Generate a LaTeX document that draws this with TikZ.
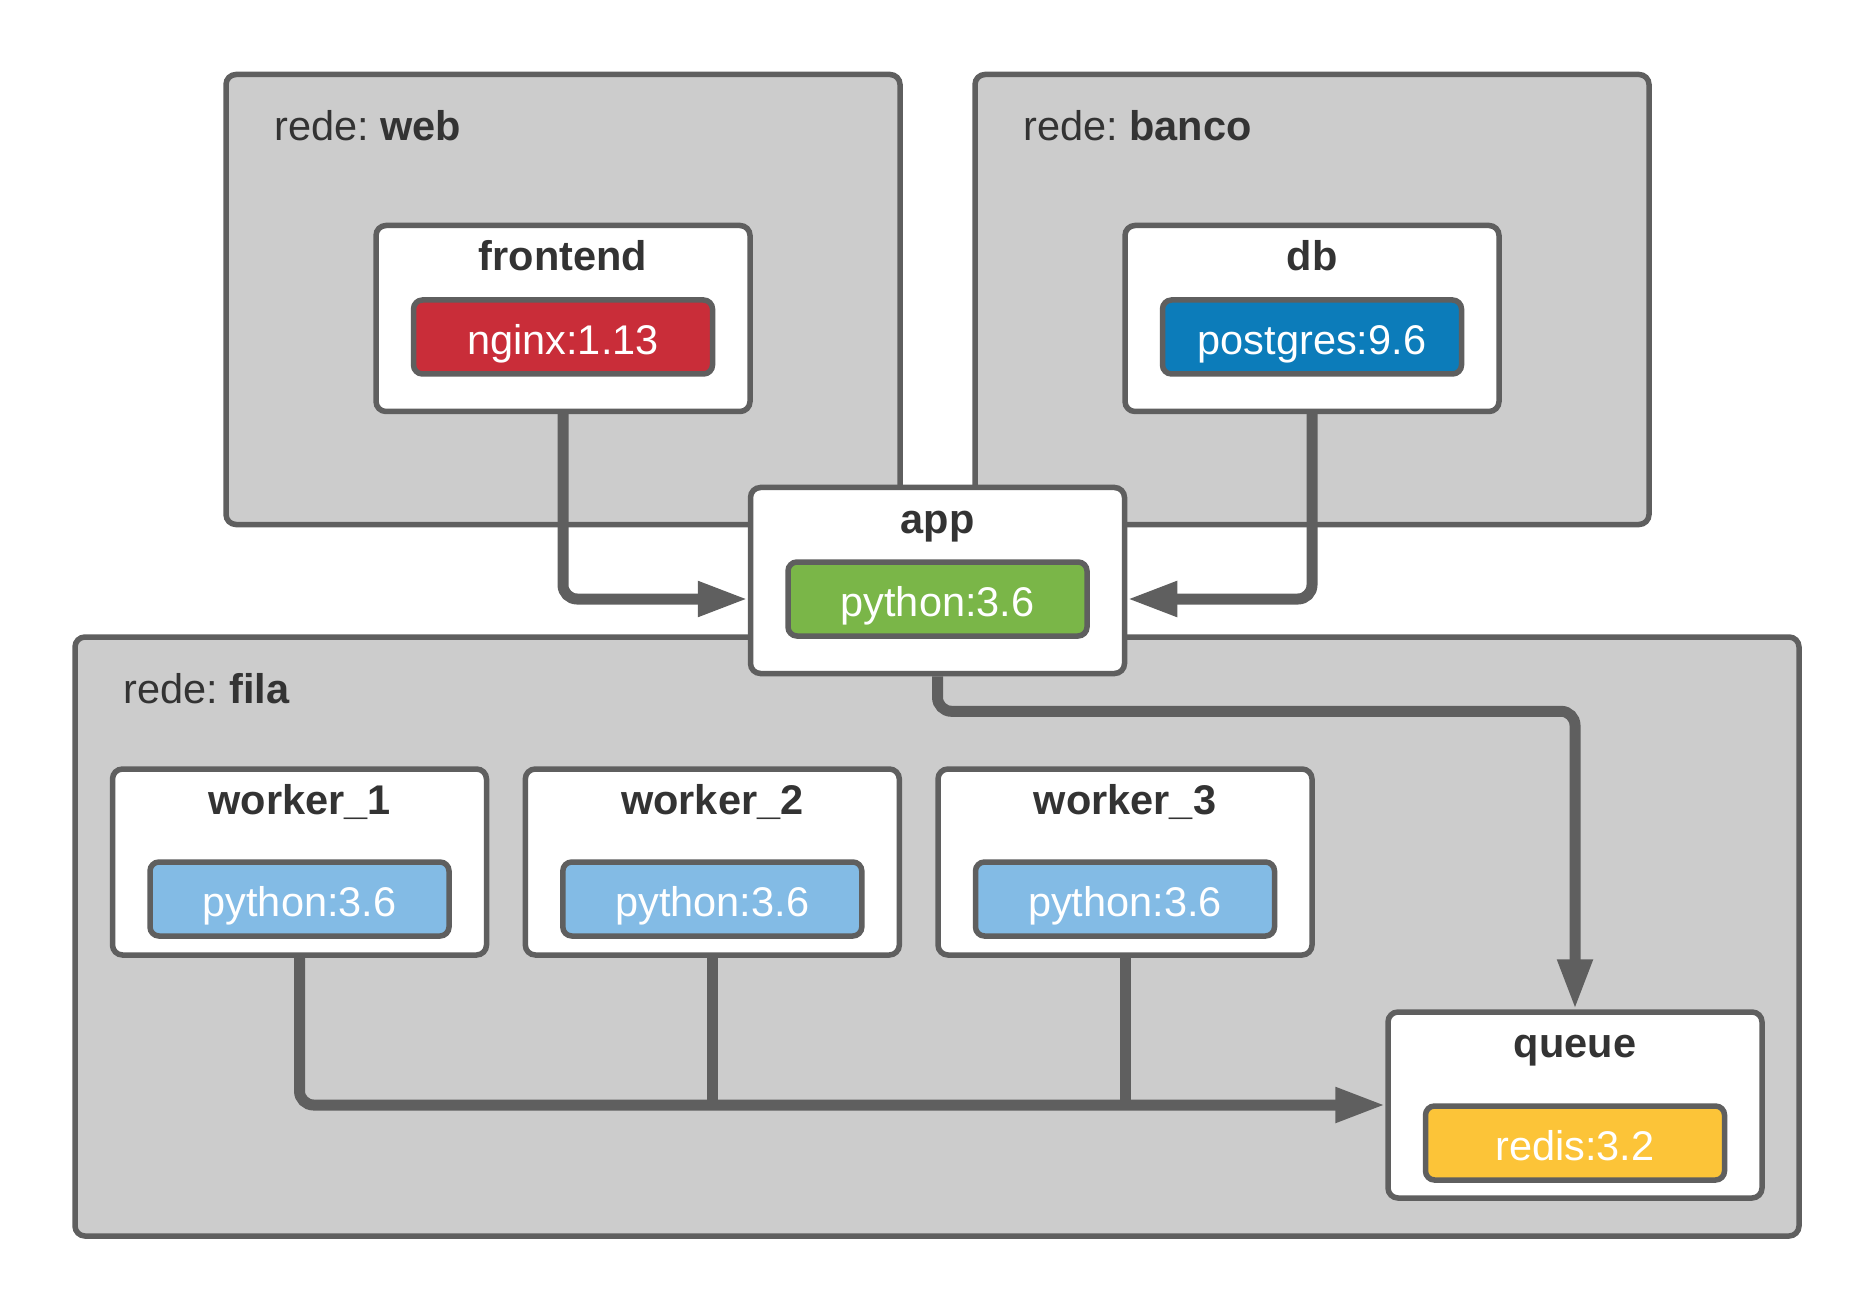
\documentclass[tikz,border=0pt]{standalone}
\usepackage{fontspec}
\setmainfont{Liberation Sans}
\usetikzlibrary{arrows.meta}
\definecolor{linegray}{HTML}{5F5F5F}
\definecolor{groupgray}{HTML}{CCCCCC}
\definecolor{txtgray}{HTML}{333333}
\definecolor{imgred}{HTML}{C92D39}
\definecolor{imgblue}{HTML}{0C7CBA}
\definecolor{imggreen}{HTML}{7AB648}
\definecolor{imglight}{HTML}{83BBE5}
\definecolor{imgyellow}{HTML}{FCC438}
\tikzset{
  groupbox/.style={draw=linegray, fill=groupgray, line width=5.5pt, rounded corners=10pt, inner sep=0pt, anchor=north west},
  grouplabel/.style={text=txtgray, anchor=base west, inner sep=0pt, font=\fontsize{41.5}{48}\selectfont\frenchspacing},
  svcbox/.style={draw=linegray, fill=white, line width=5.5pt, rounded corners=10pt, inner sep=0pt, minimum width=374pt, minimum height=186pt, anchor=north},
  svctitle/.style={text=txtgray, anchor=base, inner sep=0pt, font=\fontsize{41.5}{48}\selectfont\bfseries},
  imgbox/.style={draw=linegray, line width=5.5pt, rounded corners=9pt, inner sep=0pt, minimum width=299pt, minimum height=74pt, anchor=north},
  imgtext/.style={text=white, anchor=base, inner sep=0pt, font=\fontsize{41.5}{48}\selectfont},
  conn/.style={draw=linegray, line width=11pt, rounded corners=14pt, -{Triangle[length=50pt,width=33pt]}},
  connplain/.style={draw=linegray, line width=11pt}
}
\newcommand{\mkservice}[7]{%
  \node[svcbox] (#1) at (#2,#3-2.75) {};
  \node[svctitle] (#1-title) at (#2,#3+45.5) {#4};
  \node[imgbox, fill=#6] (#1-img) at (#2,#3+#7-2.75) {};
  \node[imgtext] (#1-imgtext) at (#2,#3+#7+54.7) {#5};
}
\begin{document}
\begin{tikzpicture}[x=1pt,y=-1pt]
\useasboundingbox (0,0) rectangle (1875,1313);
% groups
\node[groupbox, minimum width=674pt, minimum height=450pt] (web) at (223.25,71.75) {};
\node[grouplabel] (web-label) at (274,140.5) {rede: \textbf{web}};
\node[groupbox, minimum width=674pt, minimum height=450pt] (banco) at (972.25,71.75) {};
\node[grouplabel] (banco-label) at (1023,140.5) {rede: \textbf{banco}};
\node[groupbox, minimum width=1724pt, minimum height=599pt] (fila) at (72.25,634.25) {};
\node[grouplabel] (fila-label) at (123,703) {rede: \textbf{fila}};
% services
\mkservice{frontend}{563}{225.5}{frontend}{nginx:1.13}{imgred}{74.5}
\mkservice{db}{1312}{225.5}{db}{postgres:9.6}{imgblue}{74.5}
\mkservice{app}{937.5}{487.5}{app}{python:3.6}{imggreen}{74.5}
\mkservice{worker1}{299.5}{769}{worker\_1}{python:3.6}{imglight}{93}
\mkservice{worker2}{712.3}{769}{worker\_2}{python:3.6}{imglight}{93}
\mkservice{worker3}{1125}{769}{worker\_3}{python:3.6}{imglight}{93}
\mkservice{queue}{1575}{1012}{queue}{redis:3.2}{imgyellow}{94}
% connectors
\draw[conn] (frontend.south) |- ([yshift=-18.5pt]app.west);
\draw[conn] (db.south) |- ([yshift=-18.5pt]app.east);
\draw[conn] (app.south) -- (app.south |- 0,711.3) -| (queue.north);
\draw[connplain] (worker2.south) -- (worker2.south |- queue.west);
\draw[connplain] (worker3.south) -- (worker3.south |- queue.west);
\draw[conn] (worker1.south) |- (queue.west);
\end{tikzpicture}
\end{document}
